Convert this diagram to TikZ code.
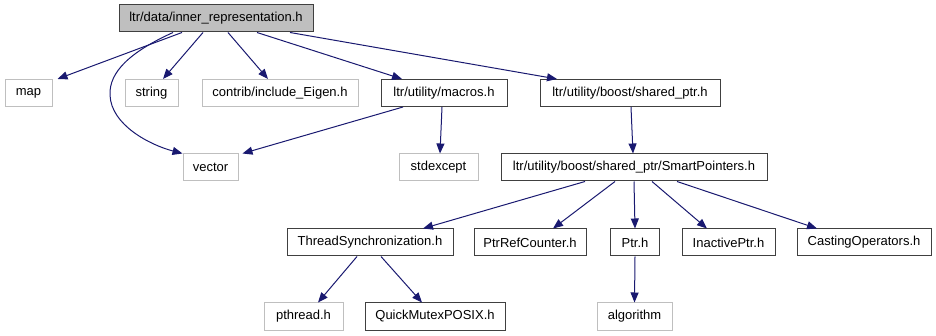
\documentclass[tikz,border=0pt]{standalone}
\usepackage{fontspec}
\setmainfont{Liberation Sans}
\usetikzlibrary{arrows.meta}
\definecolor{edgeblue}{HTML}{191970}
\definecolor{boxgray}{HTML}{BFBFBF}
\definecolor{boxdark}{HTML}{404040}
\tikzset{
    hdr/.style={draw=boxdark, line width=1pt, minimum height=27pt, inner sep=0pt,
        font=\fontsize{13}{15}\selectfont},
    rootfile/.style={hdr, fill=boxgray},
    sysfile/.style={hdr, draw=boxgray},
    inc/.style={draw=edgeblue, line width=1pt, -{Triangle[length=10pt,width=8pt]}}
}

\begin{document}
\begin{tikzpicture}[x=1pt,y=-1pt]
    \useasboundingbox (0,0) rectangle (936,336);

    \node[rootfile, minimum width=194pt] (root) at (216,18.5) {ltr/data/inner\_representation.h};

    \node[sysfile, minimum width=47pt] (map) at (28.5,93) {map};
    \node[sysfile, minimum width=53pt] (string) at (151.5,93) {string};
    \node[sysfile, minimum width=156pt] (eigen) at (280,93) {contrib/include\_Eigen.h};
    \node[hdr, minimum width=126pt] (macros) at (444,93) {ltr/utility/macros.h};
    \node[hdr, minimum width=180pt] (shared) at (630,93) {ltr/utility/boost/shared\_ptr.h};

    \node[sysfile, minimum width=55pt] (vector) at (210.5,167.5) {vector};
    \node[sysfile, minimum width=79pt] (stdexcept) at (438.5,167.5) {stdexcept};
    \node[hdr, minimum width=266pt] (smart) at (634,167.5) {ltr/utility/boost/shared\_ptr/SmartPointers.h};

    \node[hdr, minimum width=166pt] (thread) at (370,242.5) {ThreadSynchronization.h};
    \node[hdr, minimum width=112pt] (refcnt) at (530,242.5) {PtrRefCounter.h};
    \node[hdr, minimum width=49pt] (ptr) at (635,242.5) {Ptr.h};
    \node[hdr, minimum width=93pt] (inactive) at (728.5,242.5) {InactivePtr.h};
    \node[hdr, minimum width=134pt] (casting) at (864,242.5) {CastingOperators.h};

    \node[sysfile, minimum width=79pt] (pthread) at (303.5,316.5) {pthread.h};
    \node[hdr, minimum width=140pt] (mutex) at (435,316.5) {QuickMutexPOSIX.h};
    \node[sysfile, minimum width=75pt] (algorithm) at (634.5,316.5) {algorithm};

    % includes of inner_representation.h
    \draw[inc] ([xshift=-34pt]root.south) -- ([xshift=5pt]map.north east);
    \draw[inc] ([xshift=-43pt]root.south) .. controls (130,52) and (109,72) .. (110,95)
        .. controls (111,125) and (150,145) .. (vector.north west);
    \draw[inc] ([xshift=-13pt]root.south) -- ([xshift=11.5pt]string.north);
    \draw[inc] ([xshift=12pt]root.south) -- ([xshift=-12pt]eigen.north);
    \draw[inc] ([xshift=41pt]root.south) -- ([xshift=-42pt]macros.north);
    \draw[inc] ([xshift=74pt]root.south) -- ([xshift=-73pt]shared.north);

    \draw[inc] ([xshift=-41pt]macros.south) -- ([xshift=4pt]vector.north east);
    \draw[inc] ([xshift=-2pt]macros.south) -- ([xshift=1.5pt]stdexcept.north);
    \draw[inc] ([xshift=1pt]shared.south) -- ([xshift=-1pt]smart.north);

    % SmartPointers.h
    \draw[inc] ([xshift=-49pt]smart.south) -- ([xshift=53pt]thread.north);
    \draw[inc] ([xshift=-19pt]smart.south) -- ([xshift=23pt]refcnt.north);
    \draw[inc] (smart.south) -- (ptr.north);
    \draw[inc] ([xshift=18pt]smart.south) -- ([xshift=-21.5pt]inactive.north);
    \draw[inc] ([xshift=43pt]smart.south) -- ([xshift=-47pt]casting.north);

    \draw[inc] ([xshift=-13pt]thread.south) -- ([xshift=14.5pt]pthread.north);
    \draw[inc] ([xshift=11pt]thread.south) -- ([xshift=-13pt]mutex.north);
    \draw[inc] (ptr.south) -- (algorithm.north);
\end{tikzpicture}
\end{document}
